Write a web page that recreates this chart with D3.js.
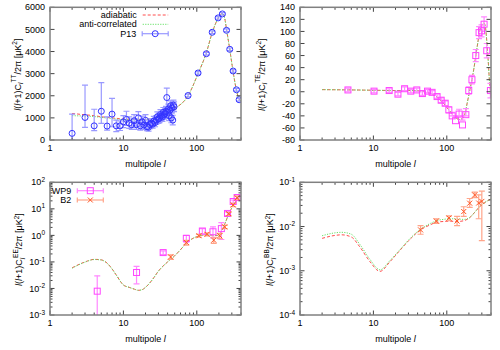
<!DOCTYPE html>
<html>
<head>
<meta charset="UTF-8">
<title>CMB spectra</title>
<script src="https://cdn.jsdelivr.net/npm/d3@7/dist/d3.min.js"></script>
<style>
  body, html { margin:0; padding:0; background:#fff; }
  svg { font-family: "Liberation Sans", Arial, sans-serif; font-size: 9px; }
</style>
</head>
<body>
<div id="chart"></div>
<script>
// ---- data ----
// TT theory
var ttThL   = [2,3,4,5,7,10,15,20,30,40,50,76,104,135,162,195,223,240,254,281,312,347,377,400];
var ttAdi   = [1200,1140,1100,1050,1000,950,930,930,1050,1220,1420,2000,3000,3950,4850,5500,5720,5500,5000,4100,3100,2250,1850,1780];
var ttAnti  = [1100,1080,1060,1020,970,920,910,925,1050,1220,1420,2000,3000,3950,4850,5500,5720,5500,5000,4100,3100,2250,1850,1780];
// P13 points
var p13L    = [2,3,4,5,6,7,8,9,10,11,12,13,14,15,16,17,18,19,20,21,22,23,24,25,26,27,28,29,30,31,32,33,34,35,36,37,38,39,40,41,42,43,44,45,46,47,48,49,
               76,104,135,162,195,223,254,281,312,347,377];
var p13Val  = [300,1020,640,1300,630,1170,640,640,820,930,760,690,870,690,1000,640,820,680,890,600,580,700,760,720,860,790,900,1050,950,990,1150,1090,1040,1250,1150,1200,1300,1920,1250,1400,1100,1350,1550,1000,1450,900,1580,1500,
               2010,3030,3900,4870,5520,5700,4960,4100,3120,2270,1820];
var p13Lo   = [0,570,420,750,450,600,380,430,560,660,530,480,630,480,750,440,590,480,660,420,400,510,570,540,660,600,700,830,750,790,930,880,840,1030,940,990,1080,1500,1030,1180,880,1130,1330,780,1230,680,1360,1280,
               1950,2970,3840,4810,5460,5640,4900,4040,3060,2210,1760];
var p13Hi   = [1170,2480,1390,2590,1050,1880,900,860,1100,1300,1050,950,1150,950,1280,880,1080,900,1150,800,760,900,960,920,1070,990,1100,1270,1160,1200,1370,1300,1250,1470,1360,1410,1520,2350,1470,1620,1320,1570,1770,1220,1670,1120,1800,1720,
               2070,3090,3960,4930,5580,5760,5020,4160,3180,2330,1880];
// TE theory
var teThL   = [2,5,10,20,30,40,50,60,70,80,90,100,110,120,135,150,165,178,190,200,210,220,235,250,265,280,300,320,335,350,365,380,400];
var teAdi   = [3.5,3,2.5,2,2,1.5,0,-3,-7,-13,-19,-26,-32,-38,-44,-46,-44,-35,-18,-5,8,20,40,62,82,100,110,114,108,85,55,20,-5];
var teAnti  = [3.5,3,2.5,2,2,1.5,0,-3,-7,-13,-19,-26,-32,-38,-44,-46,-44,-35,-18,-5,8,20,40,62,82,100,110,114,108,85,55,20,-5];
// TE points
var teL     = [4.5,10.2,16.4,21.6,26.6,32.3,39,46.5,54.6,63,73.7,83.8,95,106.6,118.4,131.5,147,163.6,181.8,199,220,248,275,297,322,350,393];
var teVal   = [3,1,2,-4,5,1,3,-3,1,-1,-8,-14,-19,-30,-40,-48,-37,-55,-38,2,20,60,98,101,112,68,2];
var teErr   = [3,3,3,3,3,3,3,3,3,3,3,4,4,5,6,7,8,8,10,6,7,10,10,10,12,12,12];
// EE theory
var eeThL   = [2,3,4,5,6,7,8,10,12,14,16,18,20,25,30,40,50,60,72,85,100,115,130,150,170,190,210,230,250,270,290,313,340,377,400];
var eeAdi   = [0.06,0.1,0.125,0.12,0.09,0.055,0.032,0.0135,0.011,0.0095,0.0085,0.009,0.011,0.022,0.045,0.1,0.17,0.29,0.5,0.72,0.9,1.0,1.05,1.05,1.0,1.0,1.2,2.0,3.5,6.0,9.0,14,19,27,32];
var eeAnti  = [0.058,0.098,0.123,0.118,0.089,0.054,0.032,0.0135,0.011,0.0095,0.0085,0.009,0.011,0.022,0.045,0.1,0.17,0.29,0.5,0.72,0.9,1.0,1.05,1.05,1.0,1.0,1.2,2.0,3.5,6.0,9.0,14,19,27,32];
// WP9 EE points
var wp9L    = [4.4,15.1,34.8,72,119,166,216,262,313,354];
var wp9Val  = [0.0079,0.04,0.225,0.77,1.46,1.37,1.8,6.7,18.9,26.7];
var wp9Lo   = [0.0005,0.015,0.19,0.55,1.1,0.8,0.7,5.6,16,23];
var wp9Hi   = [0.03,0.068,0.26,1.0,1.8,2.1,3.0,7.8,21.5,30];
// B2 EE points
var b2eL    = [44,72,107,138,170,205,240,272,313,354];
var b2eVal  = [0.154,0.54,0.97,1.1,0.66,0.97,2.1,6.5,14,26];
var b2eLo   = [0.125,0.43,0.85,0.95,0.5,0.75,1.8,5.6,12,22];
var b2eHi   = [0.185,0.65,1.1,1.25,0.85,1.2,2.4,7.4,16,30];
// BB theory
var bbThL   = [2,3,3.7,5,6.5,9,12.3,16.8,23,31,43,60,72,90,110,140,170,206,240,280,330,400];
var bbAdi   = [0.0054,0.0063,0.0065,0.0058,0.0035,0.0016,0.00097,0.0016,0.0029,0.005,0.0082,0.011,0.0125,0.013,0.0132,0.013,0.0135,0.016,0.021,0.028,0.035,0.042];
var bbAnti  = [0.0062,0.0072,0.0074,0.0067,0.004,0.0018,0.00105,0.0017,0.003,0.0052,0.0085,0.0118,0.0135,0.0145,0.015,0.0148,0.0145,0.016,0.021,0.028,0.035,0.042];
// B2 BB points
var b2bL    = [43.9,72,107,138,170,205,240,272,300];
var b2bVal  = [0.0084,0.0133,0.0155,0.0133,0.0218,0.0337,0.0517,0.034,0.037];
var b2bLo   = [0.0067,0.0118,0.0135,0.0105,0.017,0.027,0.045,0.015,0.0048];
var b2bHi   = [0.0105,0.015,0.0175,0.017,0.028,0.043,0.06,0.052,0.063];

var xTicks  = [1,10,100];
var ttTicks = [0,1000,2000,3000,4000,5000,6000];
var teTicks = [-80,-60,-40,-20,0,20,40,60,80,100,120,140];

// ---- colours ----
var cAdi = '#ff4d4d', cAnti = '#66e066';
var cP13 = '#3333ff', cP13e = '#9999ff';
var cWP = '#ff44ff', cWPe = '#ff88ff';
var cB2 = '#ff5522', cB2e = '#ffa58a';

var svg = d3.select('#chart').append('svg').attr('width', 500).attr('height', 350);

function panel(px0, py0, yScaleType, yDomain) {
  var p = { x0: px0, x1: px0 + 191, y0: py0, y1: py0 + 132.7 };
  p.x = d3.scaleLog().domain([1, 400]).range([p.x0, p.x1]);
  p.y = (yScaleType == 'log' ? d3.scaleLog() : d3.scaleLinear()).domain(yDomain).range([p.y1, p.y0]);
  p.g = svg.append('g');
  p.clip = 'clip' + px0 + '_' + Math.round(py0);
  p.g.append('clipPath').attr('id', p.clip).append('rect')
    .attr('x', p.x0).attr('y', p.y0).attr('width', p.x1 - p.x0).attr('height', p.y1 - p.y0);
  p.plot = p.g.append('g').attr('clip-path', 'url(#' + p.clip + ')');
  return p;
}

function axes(p, yType, yMajor, yLabelX, sup) {
  var g = p.g, tk = '#444';
  // x ticks
  var minor = [];
  [1,10,100].forEach(function(d){ for (var k = 2; k <= 9; k++) if (d*k <= 400) minor.push(d*k); });
  xTicks.forEach(function(v){
    var X = p.x(v);
    g.append('line').attr('x1', X).attr('x2', X).attr('y1', p.y1).attr('y2', p.y1 - 4.5).attr('stroke', tk);
    g.append('line').attr('x1', X).attr('x2', X).attr('y1', p.y0).attr('y2', p.y0 + 4.5).attr('stroke', tk);
    g.append('text').attr('x', X).attr('y', p.y1 + 10.5).attr('text-anchor', 'middle').text(v);
  });
  minor.forEach(function(v){
    var X = p.x(v);
    g.append('line').attr('x1', X).attr('x2', X).attr('y1', p.y1).attr('y2', p.y1 - 2.5).attr('stroke', tk);
    g.append('line').attr('x1', X).attr('x2', X).attr('y1', p.y0).attr('y2', p.y0 + 2.5).attr('stroke', tk);
  });
  // y ticks
  yMajor.forEach(function(v){
    var Y = p.y(v);
    g.append('line').attr('x1', p.x0).attr('x2', p.x0 + 4.5).attr('y1', Y).attr('y2', Y).attr('stroke', tk);
    g.append('line').attr('x1', p.x1).attr('x2', p.x1 - 4.5).attr('y1', Y).attr('y2', Y).attr('stroke', tk);
    var t = g.append('text').attr('x', p.x0 - 5).attr('y', Y).attr('dy', '0.35em').attr('text-anchor', 'end');
    if (yType == 'log') {
      var e = Math.round(Math.log10(v));
      t.append('tspan').text('10');
      t.append('tspan').attr('dy', -3.5).attr('font-size', 6.5).text(e < 0 ? '-' + (-e) : e);
    } else {
      t.text(v);
    }
  });
  if (yType == 'log') {
    yMajor.slice(0, -1).forEach(function(v){
      for (var k = 2; k <= 9; k++) {
        var Y = p.y(v * k);
        g.append('line').attr('x1', p.x0).attr('x2', p.x0 + 2.5).attr('y1', Y).attr('y2', Y).attr('stroke', tk);
        g.append('line').attr('x1', p.x1).attr('x2', p.x1 - 2.5).attr('y1', Y).attr('y2', Y).attr('stroke', tk);
      }
    });
  }
  // frame
  g.append('rect').attr('x', p.x0).attr('y', p.y0).attr('width', p.x1 - p.x0).attr('height', p.y1 - p.y0)
    .attr('fill', 'none').attr('stroke', '#808080').attr('stroke-width', 1.5);
  // x label
  var xl = g.append('text').attr('x', (p.x0 + p.x1) / 2).attr('y', p.y1 + 26.5).attr('text-anchor', 'middle');
  xl.append('tspan').text('multipole ');
  xl.append('tspan').style('font-style', 'italic').text('l');
  // y label
  var cy = (p.y0 + p.y1) / 2 + 1;
  var yl = g.append('text').attr('transform', 'translate(' + yLabelX + ',' + cy + ') rotate(-90)')
    .attr('text-anchor', 'middle').attr('dy', '0.35em');
  yl.append('tspan').style('font-style', 'italic').text('l');
  yl.append('tspan').text('(');
  yl.append('tspan').style('font-style', 'italic').text('l');
  yl.append('tspan').text('+1)C');
  yl.append('tspan').attr('dy', 2.5).attr('font-size', 6.5).style('font-style', 'italic').text('l');
  yl.append('tspan').attr('dy', -7).attr('font-size', 6.5).text(sup);
  yl.append('tspan').attr('dy', 4.5).text('/2π [μK');
  yl.append('tspan').attr('dy', -3.5).attr('font-size', 6.5).text('2');
  yl.append('tspan').attr('dy', 3.5).text(']');
}

function theory(p, L, adi, anti) {
  var line = d3.line().x(function(d){ return p.x(d[0]); }).y(function(d){ return p.y(d[1]); }).curve(d3.curveMonotoneX);
  p.plot.append('path').attr('d', line(d3.zip(L, adi))).attr('fill', 'none')
    .attr('stroke', cAdi).attr('stroke-width', 1).attr('stroke-dasharray', '3,2');
  p.plot.append('path').attr('d', line(d3.zip(L, anti))).attr('fill', 'none')
    .attr('stroke', cAnti).attr('stroke-width', 1).attr('stroke-dasharray', '1.2,1.3');
}

function errbars(p, L, lo, hi, col) {
  var g = p.plot.append('g').attr('stroke', col).attr('stroke-width', 1.2).attr('fill', 'none');
  L.forEach(function(l, i){
    var X = p.x(l), a = p.y(Math.max(lo[i], p.y.domain()[0] * 0.5 || lo[i])), b = p.y(hi[i]);
    if (p.y.domain()[0] > 0 && lo[i] <= 0) a = p.y1 + 2;
    g.append('line').attr('x1', X).attr('x2', X).attr('y1', a).attr('y2', b);
    g.append('line').attr('x1', X - 3).attr('x2', X + 3).attr('y1', a).attr('y2', a);
    g.append('line').attr('x1', X - 3).attr('x2', X + 3).attr('y1', b).attr('y2', b);
  });
}

function marks(p, L, V, shape, col) {
  var g = p.plot.append('g').attr('stroke', col).attr('stroke-width', 1).attr('fill', 'none');
  L.forEach(function(l, i){ drawMark(g, p.x(l), p.y(V[i]), shape); });
}

function drawMark(g, X, Y, shape) {
  if (shape == 'circle') g.append('circle').attr('cx', X).attr('cy', Y).attr('r', 3);
  else if (shape == 'square') g.append('rect').attr('x', X - 3).attr('y', Y - 3).attr('width', 6).attr('height', 6);
  else {
    g.append('line').attr('x1', X - 2.5).attr('x2', X + 2.5).attr('y1', Y - 2.5).attr('y2', Y + 2.5);
    g.append('line').attr('x1', X - 2.5).attr('x2', X + 2.5).attr('y1', Y + 2.5).attr('y2', Y - 2.5);
  }
}

function legendLine(g, x, y, label, col, dash) {
  g.append('text').attr('x', x - 6).attr('y', y).attr('dy', '0.35em').attr('text-anchor', 'end').text(label);
  g.append('line').attr('x1', x).attr('x2', x + 25.5).attr('y1', y).attr('y2', y)
    .attr('stroke', col).attr('stroke-width', 1).attr('stroke-dasharray', dash);
}

function legendPts(g, x, y, label, col, ecol, shape) {
  g.append('text').attr('x', x - 6).attr('y', y).attr('dy', '0.35em').attr('text-anchor', 'end').text(label);
  var e = g.append('g').attr('stroke', ecol).attr('stroke-width', 1.2);
  e.append('line').attr('x1', x).attr('x2', x + 26).attr('y1', y).attr('y2', y);
  e.append('line').attr('x1', x).attr('x2', x).attr('y1', y - 2.5).attr('y2', y + 2.5);
  e.append('line').attr('x1', x + 26).attr('x2', x + 26).attr('y1', y - 2.5).attr('y2', y + 2.5);
  drawMark(g.append('g').attr('stroke', col).attr('fill', 'none'), x + 13, y, shape);
}

// ---- TT ----
var tt = panel(50, 7.3, 'lin', [0, 6000]);
theory(tt, ttThL, ttAdi, ttAnti);
errbars(tt, p13L, p13Lo, p13Hi, cP13e);
marks(tt, p13L, p13Val, 'circle', cP13);
axes(tt, 'lin', ttTicks, 17.7, 'TT');
legendLine(tt.g, 142.7, 15, 'adiabatic', cAdi, '3,2');
legendLine(tt.g, 142.7, 24.3, 'anti-correlated', cAnti, '1.2,1.3');
legendPts(tt.g, 142.2, 33.7, 'P13', cP13, cP13e, 'circle');

// ---- TE ----
var te = panel(300, 7.3, 'lin', [-80, 140]);
theory(te, teThL, teAdi, teAnti);
errbars(te, teL, teVal.map(function(v, i){ return v - teErr[i]; }), teVal.map(function(v, i){ return v + teErr[i]; }), cWPe);
marks(te, teL, teVal, 'square', cWP);
axes(te, 'lin', teTicks, 261.7, 'TE');

// ---- EE ----
var ee = panel(50, 182.3, 'log', [1e-3, 1e2]);
theory(ee, eeThL, eeAdi, eeAnti);
errbars(ee, wp9L, wp9Lo, wp9Hi, cWPe);
marks(ee, wp9L, wp9Val, 'square', cWP);
errbars(ee, b2eL, b2eLo, b2eHi, cB2e);
marks(ee, b2eL, b2eVal, 'cross', cB2);
axes(ee, 'log', [1e-3, 1e-2, 1e-1, 1, 10, 100], 19.3, 'EE');
legendPts(ee.g, 77.3, 190.7, 'WP9', cWP, cWPe, 'square');
legendPts(ee.g, 77.3, 200, 'B2', cB2, cB2e, 'cross');

// ---- BB ----
var bb = panel(300, 182.3, 'log', [1e-4, 1e-1]);
theory(bb, bbThL, bbAdi, bbAnti);
errbars(bb, b2bL, b2bLo, b2bHi, cB2e);
marks(bb, b2bL, b2bVal, 'cross', cB2);
axes(bb, 'log', [1e-4, 1e-3, 1e-2, 1e-1], 270.3, 'BB');
</script>
</body>
</html>
